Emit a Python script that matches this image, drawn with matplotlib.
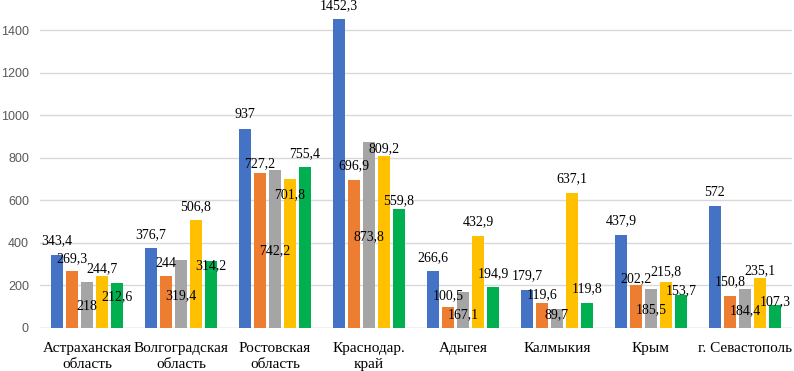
import matplotlib
matplotlib.use("Agg")
import matplotlib.pyplot as plt
import numpy as np

regions = ["Астраханская\nобласть", "Волгоградская\nобласть", "Ростовская\nобласть",
           "Краснодар.\nкрай", "Адыгея", "Калмыкия", "Крым", "г. Севастополь"]

s1 = [343.4, 376.7, 937, 1452.3, 266.6, 179.7, 437.9, 572]
s2 = [269.3, 244, 727.2, 696.9, 100.5, 119.6, 202.2, 150.8]
s3 = [218, 319.4, 742.2, 873.8, 167.1, 89.7, 185.5, 184.4]
s4 = [244.7, 506.8, 701.8, 809.2, 432.9, 637.1, 215.8, 235.1]
s5 = [212.6, 314.2, 755.4, 559.8, 194.9, 119.8, 153.7, 107.3]
series = [s1, s2, s3, s4, s5]

# где стоят подписи (в единицах оси y), как в исходнике - вручную
label_y = [
    [410, 437, 1002, 1515, 331, 248, 503, 636],
    [328, 304, 771, 763, 150, 155, 232, 218],
    [103, 150, 364, 430, 61, 61, 85, 81],
    [281, 571, 626, 845, 500, 704, 267, 268],
    [147, 293, 818, 597, 257, 185, 174, 124],
]

colors = ["#4472C4", "#ED7D31", "#A5A5A5", "#FFC000", "#00B050"]

fig = plt.figure(figsize=(7.94, 3.71), dpi=100)
ax = fig.add_axes([40 / 794, 43 / 371, 752 / 794, 319 / 371])

x = np.arange(len(regions))
step = 0.16
width = 0.124

for i, vals in enumerate(series):
    pos = x + (i - 2) * step
    ax.bar(pos, vals, width=width, color=colors[i], zorder=3)
    for px, v, ly in zip(pos, vals, label_y[i]):
        txt = f"{v:g}".replace(".", ",")
        ax.text(px, ly, txt, ha="center", va="center", fontsize=10,
                family="Liberation Serif", color="black", zorder=4)

ax.set_xlim(-0.5, len(regions) - 0.5)
ax.set_ylim(0, 1500)
ax.set_yticks(range(0, 1401, 200))
ax.set_xticks(x)
ax.set_xticklabels(regions, family="Liberation Serif", fontsize=11, color="black",
                   linespacing=1.3)
for lab in ax.get_yticklabels():
    lab.set_family("Liberation Sans")
    lab.set_fontsize(9)
    lab.set_color("#595959")

ax.grid(axis="y", color="#D9D9D9", linewidth=1, zorder=0)
for sp in ax.spines.values():
    sp.set_visible(False)
ax.axhline(0, color="#D9D9D9", linewidth=1, zorder=2)
ax.tick_params(axis="both", length=0)
ax.tick_params(axis="y", pad=8)
ax.tick_params(axis="x", pad=10)

plt.savefig("out.png", dpi=100)
